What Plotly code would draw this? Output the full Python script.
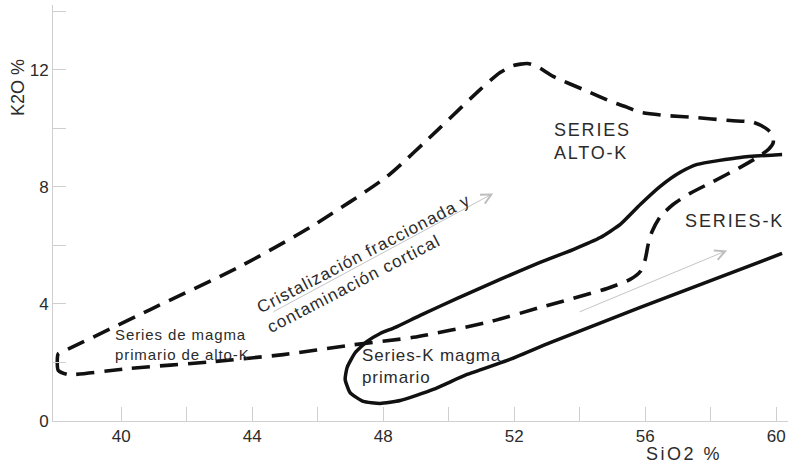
import plotly.graph_objects as go

# Outline of the high-K field (dashed), traced from the lower-left corner
alto_k_sio2 = [38.08, 38.05, 38.08, 38.38, 40.27, 42.72, 44.95, 46.99, 48.92, 51.18,
               52.79, 54.84, 55.54, 55.85, 56.00, 56.09, 56.21, 56.46, 56.85, 57.37,
               58.08, 58.90, 59.42, 59.76, 59.91, 59.88, 59.73, 59.30, 58.60, 57.47,
               56.67, 55.85, 55.39, 55.02, 54.11, 53.19, 52.70, 52.40, 51.97, 51.57,
               50.96, 49.74, 48.12, 45.77, 43.63, 40.89, 38.35, 38.08]
alto_k_k2o = [2.30, 2.03, 1.73, 1.59, 1.80, 2.02, 2.27, 2.59, 2.86, 3.37,
              3.88, 4.53, 4.84, 5.11, 5.52, 6.03, 6.48, 6.99, 7.40, 7.78,
              8.19, 8.67, 9.01, 9.28, 9.52, 9.79, 9.97, 10.21, 10.27, 10.38,
              10.44, 10.55, 10.75, 10.89, 11.33, 11.78, 12.12, 12.22, 12.15, 11.91,
              11.33, 10.03, 8.36, 6.62, 5.28, 3.81, 2.44, 2.30]

# K-series field (solid): upper branch from the right, round the primary-magma loop, lower branch
serie_k_sio2 = [60.18, 58.90, 57.59, 57.07, 56.46, 55.85, 55.24, 54.63, 53.80, 52.79,
                51.57, 50.26, 49.13, 48.37, 47.91, 47.51, 47.15, 46.90, 46.84, 46.99,
                47.39, 47.91, 48.52, 49.53, 50.56, 51.79, 53.10, 55.85, 60.18]
serie_k_k2o = [9.11, 9.01, 8.77, 8.50, 8.02, 7.40, 6.72, 6.27, 5.86, 5.42,
               4.84, 4.19, 3.61, 3.20, 2.99, 2.72, 2.34, 1.83, 1.42, 0.97,
               0.67, 0.60, 0.70, 1.08, 1.59, 2.07, 2.68, 3.88, 5.73]

# Trend arrows: (tail SiO2, tail K2O, head SiO2, head K2O)
trend_arrows = [(44.61, 3.71, 51.36, 7.78),
                (53.95, 3.71, 58.50, 5.83)]

x_tick_vals = [40, 42, 44, 46, 48, 50, 52, 54, 56, 58, 60]
x_tick_text = ["40", "", "44", "", "48", "", "52", "", "56", "", "60"]
y_tick_vals = [0, 2, 4, 6, 8, 10, 12, 14]
y_tick_text = ["0", "", "4", "", "8", "", "12", ""]

FONT = "Arial, Liberation Sans, sans-serif"
TXT = "#2b2b2b"
AXIS = "#cfcfcf"

W, H = 790, 463
ML, MR, MT, MB = 53, 2, 5, 42
PW, PH = W - ML - MR, H - MT - MB


def spaced(text, px):
    """Wrap each line of a label in a letter-spaced span."""
    return "<br>".join(f'<span style="letter-spacing:{px}px">{ln}</span>'
                       for ln in text.split("<br>"))


fig = go.Figure()
fig.add_trace(go.Scatter(
    x=alto_k_sio2, y=alto_k_k2o, mode="lines",
    line=dict(color="#111111", width=3.6, dash="18px,10px", shape="spline", smoothing=0.6),
    hoverinfo="skip", showlegend=False))
fig.add_trace(go.Scatter(
    x=serie_k_sio2, y=serie_k_k2o, mode="lines",
    line=dict(color="#111111", width=3.5, shape="spline", smoothing=0.5),
    hoverinfo="skip", showlegend=False))

for x0, y0, x1, y1 in trend_arrows:
    fig.add_annotation(x=x1, y=y1, ax=x0, ay=y0, xref="x", yref="y", axref="x", ayref="y",
                       text="", showarrow=True, arrowhead=5, arrowsize=2.2, arrowwidth=0.9,
                       arrowcolor="#bdbdbd")

labels = [
    dict(x=47.57, y=5.38, text="Cristalización fraccionada y<br>contaminación cortical",
         angle=-27.5, size=17, sp=1.1),
    dict(x=39.76, y=2.62, text="Series de magma<br>primario de alto-K", size=15, sp=0.9),
    dict(x=47.30, y=1.86, text="Series-K magma<br>primario", size=17, sp=0.9),
    dict(x=53.16, y=9.56, text="SERIES<br>ALTO-K", size=18, sp=1.8),
    dict(x=57.16, y=6.82, text="SERIES-K", size=18, sp=1.9),
]
for lb in labels:
    rotated = "angle" in lb
    fig.add_annotation(x=lb["x"], y=lb["y"], xref="x", yref="y",
                       text=spaced(lb["text"], lb["sp"]),
                       showarrow=False, textangle=lb.get("angle", 0),
                       xanchor="center" if rotated else "left", yanchor="middle", align="left",
                       font=dict(family=FONT, size=lb["size"], color=TXT))

# Axis titles, placed by pixel position converted to paper fractions
fig.add_annotation(x=(18 - ML) / PW, y=(H - MB - 88) / PH, xref="paper", yref="paper",
                   text="K2O %", showarrow=False, textangle=-90,
                   xanchor="center", yanchor="middle",
                   font=dict(family=FONT, size=18, color=TXT))
fig.add_annotation(x=(684 - ML) / PW, y=(H - MB - 454) / PH, xref="paper", yref="paper",
                   text=spaced("SiO2 %", 2.5), showarrow=False,
                   xanchor="center", yanchor="middle",
                   font=dict(family=FONT, size=18, color=TXT))

fig.update_layout(
    width=W, height=H, margin=dict(l=ML, r=MR, t=MT, b=MB),
    paper_bgcolor="white", plot_bgcolor="white",
    xaxis=dict(range=[37.92, 60.36], showgrid=False, zeroline=False,
               showline=True, linecolor=AXIS, linewidth=1,
               ticks="inside", ticklen=14, tickcolor=AXIS, tickwidth=1,
               tickvals=x_tick_vals, ticktext=x_tick_text,
               tickfont=dict(family=FONT, size=17, color=TXT)),
    yaxis=dict(range=[0, 14.22], showgrid=False, zeroline=False,
               showline=True, linecolor=AXIS, linewidth=1,
               ticks="inside", ticklen=13, tickcolor=AXIS, tickwidth=1,
               tickvals=y_tick_vals, ticktext=y_tick_text,
               tickfont=dict(family=FONT, size=17, color=TXT)),
)

fig.write_html("out.html")
